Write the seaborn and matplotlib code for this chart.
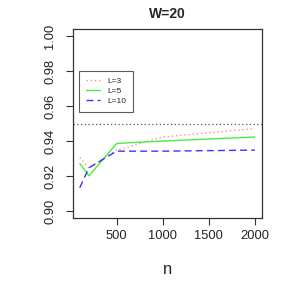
import numpy as np
import pandas as pd
import matplotlib
matplotlib.use("Agg")
import matplotlib.pyplot as plt
import seaborn as sns

n_values = [100, 200, 500, 1000, 2000]
L3 = [0.9306, 0.9245, 0.9348, 0.9423, 0.9471]
L5 = [0.9272, 0.9201, 0.9386, 0.9400, 0.9423]
L10 = [0.9133, 0.9247, 0.9342, 0.9342, 0.9348]
series_names = ["L=3", "L=5", "L=10"]
ref_level = 0.95
title = "W=20"
xticks = [500, 1000, 1500, 2000]
yticks = [0.90, 0.92, 0.94, 0.96, 0.98, 1.00]

df = pd.DataFrame({
    "n": n_values * 3,
    "cov": L3 + L5 + L10,
    "L": [series_names[0]] * 5 + [series_names[1]] * 5 + [series_names[2]] * 5,
})

sns.set_style("white")
plt.rcParams["font.family"] = ["Liberation Sans", "DejaVu Sans"]

fig = plt.figure(figsize=(2.91, 2.91), dpi=100)
ax = fig.add_axes([0.250, 0.251, 0.650, 0.649])

palette = {"L=3": "#FF8C8C", "L=5": "#44EE44", "L=10": "#3535FF"}
styles = {"L=3": (0, (1, 2)), "L=5": "-", "L=10": (0, (5, 3))}
for name in series_names:
    sub = df[df["L"] == name]
    sns.lineplot(data=sub, x="n", y="cov", ax=ax, color=palette[name],
                 linestyle=styles[name], linewidth=1.0, label=name, legend=False)

ax.axhline(ref_level, color="#555555", linestyle=(0, (1, 2)), linewidth=0.9)

ax.set_xlim(24, 2076)
ax.set_ylim(0.896, 1.004)
ax.set_xticks(xticks)
ax.set_xticklabels([str(x) for x in xticks], fontsize=9.3)
ax.set_yticks(yticks)
ax.set_yticklabels([f"{y:.2f}" for y in yticks], fontsize=9.3, rotation=90, va="center")
ax.tick_params(axis="x", direction="out", length=5, width=0.8, color="#333333",
               bottom=True, pad=4, labelcolor="#222222")
ax.tick_params(axis="y", direction="out", length=5, width=0.8, color="#333333",
               left=True, pad=7, labelcolor="#222222")
for s in ax.spines.values():
    s.set_visible(True)
    s.set_color("#333333")
    s.set_linewidth(0.9)

ax.set_xlabel("n", fontsize=12, labelpad=14)
ax.set_ylabel("")
ax.set_title(title, fontsize=10, fontweight="bold", pad=8)

leg = ax.legend(loc="upper left", bbox_to_anchor=(0.035, 0.78), fontsize=6,
                frameon=True, fancybox=False, edgecolor="#333333",
                handlelength=1.75, handletextpad=0.9, borderpad=0.75,
                labelspacing=0.3, borderaxespad=0)
leg.get_frame().set_linewidth(0.8)

fig.savefig("out.png", dpi=100)
